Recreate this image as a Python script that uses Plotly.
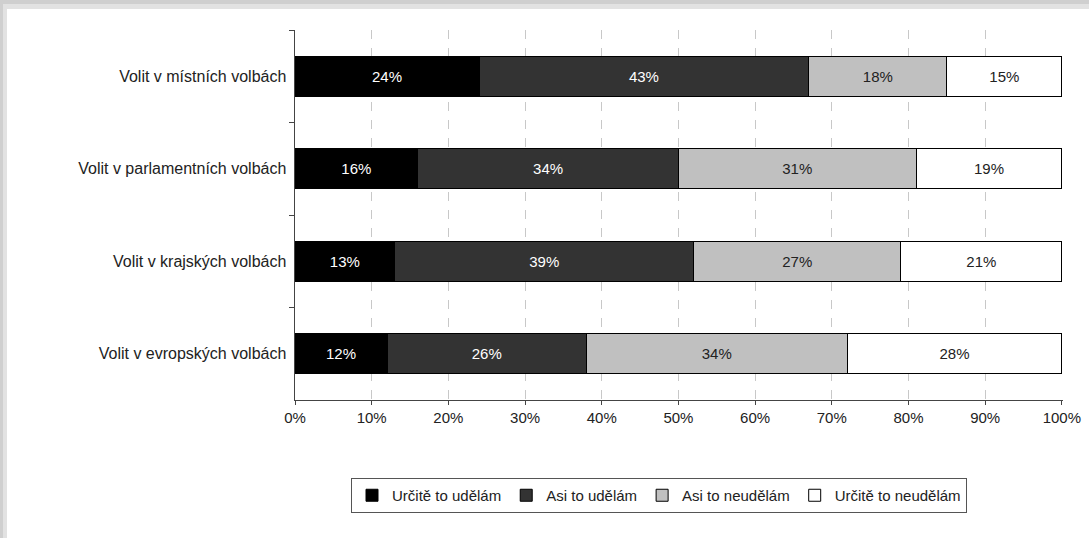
import plotly.graph_objects as go

# --- data ---
categories = ["Volit v místních volbách", "Volit v parlamentních volbách",
              "Volit v krajských volbách", "Volit v evropských volbách"]
series_names = ["Určitě to udělám", "Asi to udělám", "Asi to neudělám", "Určitě to neudělám"]
urcite_ano = [24, 16, 13, 12]
asi_ano = [43, 34, 39, 26]
asi_ne = [18, 31, 27, 34]
urcite_ne = [15, 19, 21, 28]
x_ticks = [0, 10, 20, 30, 40, 50, 60, 70, 80, 90, 100]
x_labels = ["0%", "10%", "20%", "30%", "40%", "50%", "60%", "70%", "80%", "90%", "100%"]
grid_vals = [10, 20, 30, 40, 50, 60, 70, 80, 90]

W, H = 1089, 538
L, R, T, B = 295, 26, 30, 138
PW, PH = W - L - R, H - T - B


def px_x(p):
    return (p - L) / PW


def px_y(p):
    return (H - B - p) / PH


fills = ["#000000", "#333333", "#c0c0c0", "#ffffff"]
text_cols = ["#ffffff", "#ffffff", "#222222", "#222222"]
values = [urcite_ano, asi_ano, asi_ne, urcite_ne]

fig = go.Figure()
for name, vals, fc, tc in zip(series_names, values, fills, text_cols):
    fig.add_trace(go.Bar(
        y=categories, x=vals, name=name, orientation="h",
        marker=dict(color=fc, line=dict(color="#000000", width=1)),
        width=0.43,
        text=[f"{v}%" for v in vals], textposition="inside",
        insidetextanchor="middle", textangle=0,
        textfont=dict(color=tc, size=15, family="Liberation Sans"),
    ))

# shadow frame around the page
shapes = [
    dict(type="rect", xref="paper", yref="paper", layer="below",
         x0=px_x(0), x1=px_x(W), y0=px_y(0), y1=px_y(9),
         fillcolor="#e2e2e2", line=dict(width=0)),
    dict(type="rect", xref="paper", yref="paper", layer="below",
         x0=px_x(0), x1=px_x(7), y0=px_y(0), y1=px_y(H),
         fillcolor="#e2e2e2", line=dict(width=0)),
    dict(type="rect", xref="paper", yref="paper", layer="below",
         x0=px_x(0), x1=px_x(W), y0=px_y(0), y1=px_y(4),
         fillcolor="#cfcfcf", line=dict(width=0)),
    dict(type="rect", xref="paper", yref="paper", layer="below",
         x0=px_x(0), x1=px_x(3), y0=px_y(0), y1=px_y(H),
         fillcolor="#cfcfcf", line=dict(width=0)),
]

fig.update_layout(
    width=W, height=H,
    margin=dict(l=L, r=R, t=T, b=B),
    barmode="stack",
    paper_bgcolor="#ffffff", plot_bgcolor="#ffffff",
    font=dict(family="Liberation Sans", size=15, color="#222222"),
    shapes=shapes,
    legend=dict(orientation="h", x=px_x(659), xanchor="center",
                y=px_y(478), yanchor="top",
                bordercolor="#555555", borderwidth=1,
                font=dict(size=15, color="#222222"),
                traceorder="normal", itemwidth=30,
                tracegroupgap=0),
    xaxis=dict(range=[0, 100.15], tickvals=x_ticks, ticktext=x_labels,
               showgrid=False, zeroline=False, automargin=False,
               showline=True, linecolor="#444444", linewidth=1,
               ticks="outside", ticklen=4, tickcolor="#444444",
               minor=dict(tickvals=grid_vals, showgrid=True,
                          gridcolor="#c8c8c8", griddash="dash",
                          gridwidth=1, ticks=""),
               tickfont=dict(size=15)),
    yaxis=dict(type="category", autorange="reversed", automargin=False,
               showline=True, linecolor="#444444", linewidth=1,
               ticks="outside", ticklen=5, tickcolor="#444444",
               tickson="boundaries", showgrid=False,
               tickfont=dict(size=16), ticksuffix=" "),
)

fig.write_html("out.html", config={"displayModeBar": False},
               post_script="document.body.style.margin='0';")
